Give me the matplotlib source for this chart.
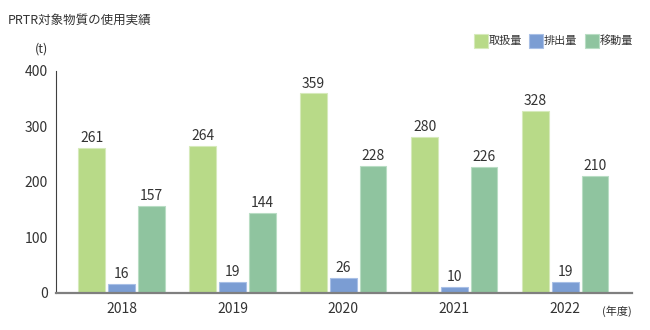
import matplotlib
matplotlib.use("Agg")
import matplotlib.pyplot as plt
import numpy as np
from matplotlib.patches import Rectangle

plt.rcParams['font.family'] = ['Noto Sans CJK JP', 'DejaVu Sans']

years = ['2018', '2019', '2020', '2021', '2022']
handled = [261, 264, 359, 280, 328]   # 取扱量
emitted = [16, 19, 26, 10, 19]        # 排出量
moved = [157, 144, 228, 226, 210]     # 移動量
series_names = ['取扱量', '排出量', '移動量']
colors = ['#b8da88', '#7b9dd3', '#8fc49f']
edges = ['#d6eabb', '#a9c0e6', '#b9ddc4']

txt = '#333333'

fig = plt.figure(figsize=(6.5, 3.3), dpi=100)
ax = fig.add_axes([0.0862, 0.113, 0.886, 0.673])

x = np.arange(len(years))
w = 0.24
step = 0.268
for k, vals in enumerate([handled, emitted, moved]):
    pos = x + (k - 1) * step
    bars = ax.bar(pos, vals, width=w, color=colors[k], edgecolor=edges[k], linewidth=0.8, zorder=2)
    for b, v in zip(bars, vals):
        ax.annotate(str(v), (b.get_x() + b.get_width() / 2, v), xytext=(0, 2),
                    textcoords='offset points', ha='center', va='bottom',
                    fontsize=10, color=txt)

ax.set_xlim(-0.59, 4.6)
ax.set_ylim(0, 400)
ax.set_yticks([0, 100, 200, 300, 400])
ax.set_xticks(x)
ax.set_xticklabels(years)
ax.tick_params(axis='y', length=0, pad=6, labelsize=10, labelcolor=txt)
ax.tick_params(axis='x', length=0, pad=7, labelsize=10, labelcolor=txt)

for s in ['top', 'right']:
    ax.spines[s].set_visible(False)
ax.spines['left'].set_color('#404040')
ax.spines['left'].set_linewidth(0.8)
ax.spines['bottom'].set_color('#7f7f7f')
ax.spines['bottom'].set_linewidth(1.6)
ax.spines['bottom'].set_zorder(3)

# title and units
fig.text(8 / 650, 1 - 20 / 330, 'PRTR対象物質の使用実績', fontsize=9, color=txt, va='center', ha='left')
fig.text(48 / 650, 1 - 49 / 330, '(t)', fontsize=9, color=txt, va='center', ha='right')
fig.text(632 / 650, 1 - 311 / 330, '(年度)', fontsize=8, color=txt, va='center', ha='right')

# legend
leg_x = [474, 529, 585]
for lx, name, c, e in zip(leg_x, series_names, colors, edges):
    fig.patches.append(Rectangle((lx / 650, 1 - 48 / 330), 14 / 650, 14 / 330,
                                 transform=fig.transFigure, facecolor=c, edgecolor=e, linewidth=0.8))
    fig.text((lx + 15) / 650, 1 - 41 / 330, name, fontsize=8, color=txt, va='center', ha='left')

fig.savefig('out.png', dpi=100)
